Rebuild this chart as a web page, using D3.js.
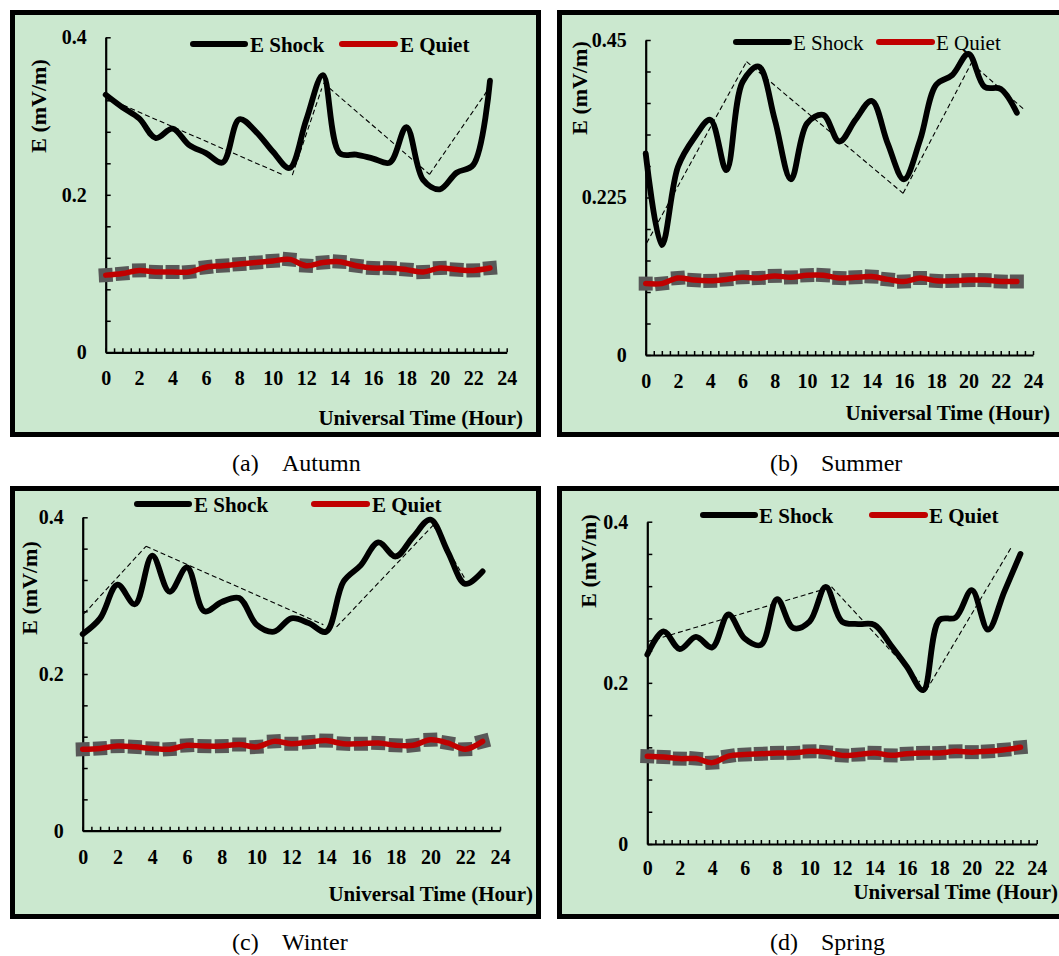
<!DOCTYPE html>
<html>
<head>
<meta charset="utf-8">
<script src="https://cdn.jsdelivr.net/npm/d3@7"></script>
<style>
  html, body { margin: 0; padding: 0; background: #ffffff; }
  svg { display: block; }
  text { font-family: "Liberation Serif", "Times New Roman", serif; fill: #000; }
</style>
</head>
<body>
<svg id="fig" width="1059" height="956"></svg>
<script>
// Hour of day (UT) for each sample
const hours = [0,1,2,3,4,5,6,7,8,9,10,11,12,13,14,15,16,17,18,19,20,21,22,23];

// Electric field E (mV/m) on shock days
const autumnShock = [0.327,0.311,0.297,0.272,0.284,0.263,0.253,0.241,0.296,0.280,0.255,0.234,0.295,0.352,0.253,0.251,0.246,0.241,0.286,0.219,0.207,0.228,0.238,0.345];
const summerShock = [0.288,0.157,0.269,0.310,0.336,0.264,0.390,0.412,0.336,0.251,0.331,0.343,0.305,0.336,0.363,0.302,0.251,0.307,0.386,0.400,0.430,0.383,0.380,0.346];
const winterShock = [0.251,0.271,0.314,0.289,0.351,0.305,0.336,0.280,0.292,0.297,0.263,0.254,0.271,0.265,0.254,0.318,0.339,0.368,0.350,0.375,0.397,0.356,0.315,0.331];
const springShock = [0.235,0.264,0.242,0.257,0.244,0.285,0.255,0.247,0.304,0.268,0.276,0.319,0.276,0.273,0.272,0.247,0.220,0.191,0.278,0.281,0.315,0.266,0.313,0.360];

// Electric field E (mV/m) on quiet days
const autumnQuiet = [0.098,0.100,0.104,0.102,0.102,0.102,0.108,0.110,0.112,0.114,0.116,0.118,0.110,0.114,0.115,0.110,0.107,0.107,0.105,0.102,0.107,0.105,0.104,0.107];
const summerQuiet = [0.102,0.102,0.110,0.107,0.106,0.108,0.111,0.110,0.113,0.111,0.114,0.114,0.110,0.111,0.112,0.108,0.105,0.110,0.106,0.106,0.107,0.107,0.105,0.105];
const winterQuiet = [0.104,0.105,0.108,0.107,0.105,0.104,0.109,0.108,0.108,0.110,0.107,0.114,0.111,0.113,0.115,0.111,0.111,0.112,0.109,0.109,0.116,0.112,0.104,0.114];
const springQuiet = [0.109,0.108,0.106,0.106,0.101,0.109,0.111,0.112,0.113,0.113,0.115,0.114,0.110,0.111,0.113,0.110,0.112,0.113,0.113,0.115,0.114,0.115,0.117,0.120];

// Piecewise trend segments for the shock curves: [[hourStart, E], [hourEnd, E]]
const autumnTrend = [[[0.16,0.322],[10.54,0.226]], [[11.17,0.225],[12.93,0.335]], [[13.03,0.342],[19.38,0.226]], [[19.38,0.226],[22.8,0.331]]];
const summerTrend = [[[0.06,0.160],[6.25,0.419]], [[6.25,0.419],[15.95,0.231]], [[15.95,0.231],[20.18,0.417]], [[20.18,0.417],[23.48,0.350]]];
const winterTrend = [[[0.08,0.277],[3.64,0.363]], [[3.64,0.363],[13.84,0.263]], [[14.6,0.260],[20.16,0.390]], [[20.16,0.390],[22.0,0.321]]];
const springTrend = [[[0.0,0.251],[11.36,0.319]], [[11.36,0.319],[16.8,0.201]], [[17.2,0.191],[22.46,0.369]]];

// Axis tick labels
const hourTicks = [0,2,4,6,8,10,12,14,16,18,20,22,24];
const yTicks04 = [0, 0.2, 0.4];
const yTicks045 = [0, 0.225, 0.45];

// Text
const seriesNames = ["E Shock", "E Quiet"];
const xTitle = "Universal Time (Hour)";
const yTitle = "E (mV/m)";
const captions = [["(a)", "Autumn"], ["(b)", "Summer"], ["(c)", "Winter"], ["(d)", "Spring"]];

// Layout for the four panels (pixels)
const panels = [
  { shock: autumnShock, quiet: autumnQuiet, trend: autumnTrend, yTicks: yTicks04, caption: captions[0],
    box: [10, 10, 541, 437], x0: 105.7, x24: 506.7, yTop: 37.3, yBot: 352.3,
    leg: { y: 44, k: [193, 245], kt: 250, r: [342, 395], rt: 400, bold: true },
    xt: { x: 523, y: 425 }, yt: { x: 38, y: 106 }, lblPad: 19, cap: { x: 232, x2: 282, y: 471 } },
  { shock: summerShock, quiet: summerQuiet, trend: summerTrend, yTicks: yTicks045, caption: captions[1],
    box: [557, 10, 1080, 437], x0: 645.7, x24: 1033, yTop: 40, yBot: 355,
    leg: { y: 42, k: [736, 789], kt: 793, r: [879, 932], rt: 936, bold: false },
    xt: { x: 1050, y: 420 }, yt: { x: 579, y: 88 }, lblPad: 19, cap: { x: 770, x2: 821, y: 471 } },
  { shock: winterShock, quiet: winterQuiet, trend: winterTrend, yTicks: yTicks04, caption: captions[2],
    box: [10, 486, 541, 919], x0: 82.7, x24: 500, yTop: 517.3, yBot: 830.7,
    leg: { y: 504, k: [137, 189], kt: 194, r: [314, 367], rt: 372, bold: true },
    xt: { x: 533, y: 901 }, yt: { x: 29, y: 588 }, lblPad: 19, cap: { x: 232, x2: 282, y: 950 } },
  { shock: springShock, quiet: springQuiet, trend: springTrend, yTicks: yTicks04, caption: captions[3],
    box: [557, 486, 1080, 919], x0: 647.3, x24: 1036.7, yTop: 521.7, yBot: 844,
    leg: { y: 515, k: [703, 755], kt: 759, r: [872, 925], rt: 929, bold: true },
    xt: { x: 1058, y: 899 }, yt: { x: 588, y: 561 }, lblPad: 17, cap: { x: 770, x2: 821, y: 950 } }
];

const BG = "#cbe8cf";
const RED = "#c00000";
const GREY = "#585858";
const svg = d3.select("#fig");

panels.forEach(p => {
  const g = svg.append("g");
  const [bx0, by0, bx1, by1] = p.box;
  const bw = 5;

  // panel frame
  g.append("rect")
    .attr("x", bx0 + bw / 2).attr("y", by0 + bw / 2)
    .attr("width", bx1 - bx0 - bw).attr("height", by1 - by0 - bw)
    .attr("fill", BG).attr("stroke", "#000").attr("stroke-width", bw);

  const yMax = p.yTicks[p.yTicks.length - 1];
  const x = d3.scaleLinear().domain([0, 24]).range([p.x0, p.x24]);
  const y = d3.scaleLinear().domain([0, yMax]).range([p.yBot, p.yTop]);

  // minor x ticks every half hour, pointing inward
  const halfHours = d3.range(0, 24.01, 0.5);
  const xAxis = g.append("g").attr("transform", `translate(0,${p.yBot})`)
    .call(d3.axisBottom(x).tickValues(halfHours).tickSize(-4).tickSizeOuter(0).tickFormat(""));
  xAxis.select(".domain").attr("stroke-width", 2.2);
  xAxis.selectAll(".tick line").attr("stroke-width", 1.5);

  const xLab = g.append("g").attr("transform", `translate(0,${p.yBot})`)
    .call(d3.axisBottom(x).tickValues(hourTicks).tickSize(0).tickPadding(p.lblPad));
  xLab.select(".domain").remove();
  xLab.selectAll("text").attr("font-size", 20).attr("font-weight", "bold")
    .style("font-family", "'Liberation Serif', serif");

  // y axis: ten minor divisions, labels at 0, mid, max
  const yMinor = d3.range(0, 11).map(i => yMax * i / 10);
  const yAxis = g.append("g").attr("transform", `translate(${p.x0},0)`)
    .call(d3.axisLeft(y).tickValues(yMinor).tickSize(-5).tickSizeOuter(0).tickFormat(""));
  yAxis.select(".domain").attr("stroke-width", 2.2);
  yAxis.selectAll(".tick line").attr("stroke-width", 1.5);

  const yLab = g.append("g").attr("transform", `translate(${p.x0},0)`)
    .call(d3.axisLeft(y).tickValues(p.yTicks).tickSize(0).tickPadding(19)
      .tickFormat(d => d === 0 ? "0" : String(d)));
  yLab.select(".domain").remove();
  yLab.selectAll("text").attr("font-size", 20).attr("font-weight", "bold")
    .style("font-family", "'Liberation Serif', serif");

  // axis titles
  g.append("text").attr("x", p.xt.x).attr("y", p.xt.y)
    .attr("text-anchor", "end").attr("font-size", 21).attr("font-weight", "bold")
    .text(xTitle);
  g.append("text")
    .attr("transform", `translate(${p.yt.x},${p.yt.y}) rotate(-90)`)
    .attr("text-anchor", "middle").attr("dy", "0.35em")
    .attr("font-size", 22).attr("font-weight", "bold")
    .text(yTitle);

  // dashed trend segments
  p.trend.forEach(seg => {
    g.append("line")
      .attr("x1", x(seg[0][0])).attr("y1", y(seg[0][1]))
      .attr("x2", x(seg[1][0])).attr("y2", y(seg[1][1]))
      .attr("stroke", "#000").attr("stroke-width", 1.1)
      .attr("stroke-dasharray", "5,3");
  });

  const curve = d3.curveCatmullRom.alpha(0.5);
  const line = d3.line().x((d, i) => x(hours[i])).y(d => y(d)).curve(curve);

  // grey bars around the quiet-day values
  const qPts = p.quiet.map((v, i) => [x(hours[i]), y(v)]);
  g.append("g").selectAll("rect").data(qPts).join("rect")
    .attr("x", -7).attr("y", -7).attr("width", 14).attr("height", 14)
    .attr("fill", GREY)
    .attr("transform", (d, i) => {
      const a = qPts[Math.max(0, i - 1)], b = qPts[Math.min(qPts.length - 1, i + 1)];
      const ang = 0.6 * Math.atan2(b[1] - a[1], b[0] - a[0]) * 180 / Math.PI;
      return `translate(${d[0]},${d[1]}) rotate(${ang})`;
    });

  // quiet-day curve
  g.append("path").datum(p.quiet).attr("d", line)
    .attr("fill", "none").attr("stroke", RED).attr("stroke-width", 5.5)
    .attr("stroke-linejoin", "round").attr("stroke-linecap", "round");

  // shock-day curve
  g.append("path").datum(p.shock).attr("d", line)
    .attr("fill", "none").attr("stroke", "#000").attr("stroke-width", 5.8)
    .attr("stroke-linejoin", "round").attr("stroke-linecap", "round");

  // legend
  const L = p.leg;
  g.append("line").attr("x1", L.k[0]).attr("x2", L.k[1]).attr("y1", L.y).attr("y2", L.y)
    .attr("stroke", "#000").attr("stroke-width", 6).attr("stroke-linecap", "round");
  g.append("text").attr("x", L.kt).attr("y", L.y + 7.5)
    .attr("font-size", 21).attr("font-weight", L.bold ? "bold" : "normal").text(seriesNames[0]);
  g.append("line").attr("x1", L.r[0]).attr("x2", L.r[1]).attr("y1", L.y).attr("y2", L.y)
    .attr("stroke", RED).attr("stroke-width", 6).attr("stroke-linecap", "round");
  g.append("text").attr("x", L.rt).attr("y", L.y + 7.5)
    .attr("font-size", 21).attr("font-weight", L.bold ? "bold" : "normal").text(seriesNames[1]);

  // caption under the panel
  svg.append("text").attr("x", p.cap.x).attr("y", p.cap.y)
    .attr("font-size", 24).text(p.caption[0]);
  svg.append("text").attr("x", p.cap.x2).attr("y", p.cap.y)
    .attr("font-size", 24).text(p.caption[1]);
});
</script>
</body>
</html>
